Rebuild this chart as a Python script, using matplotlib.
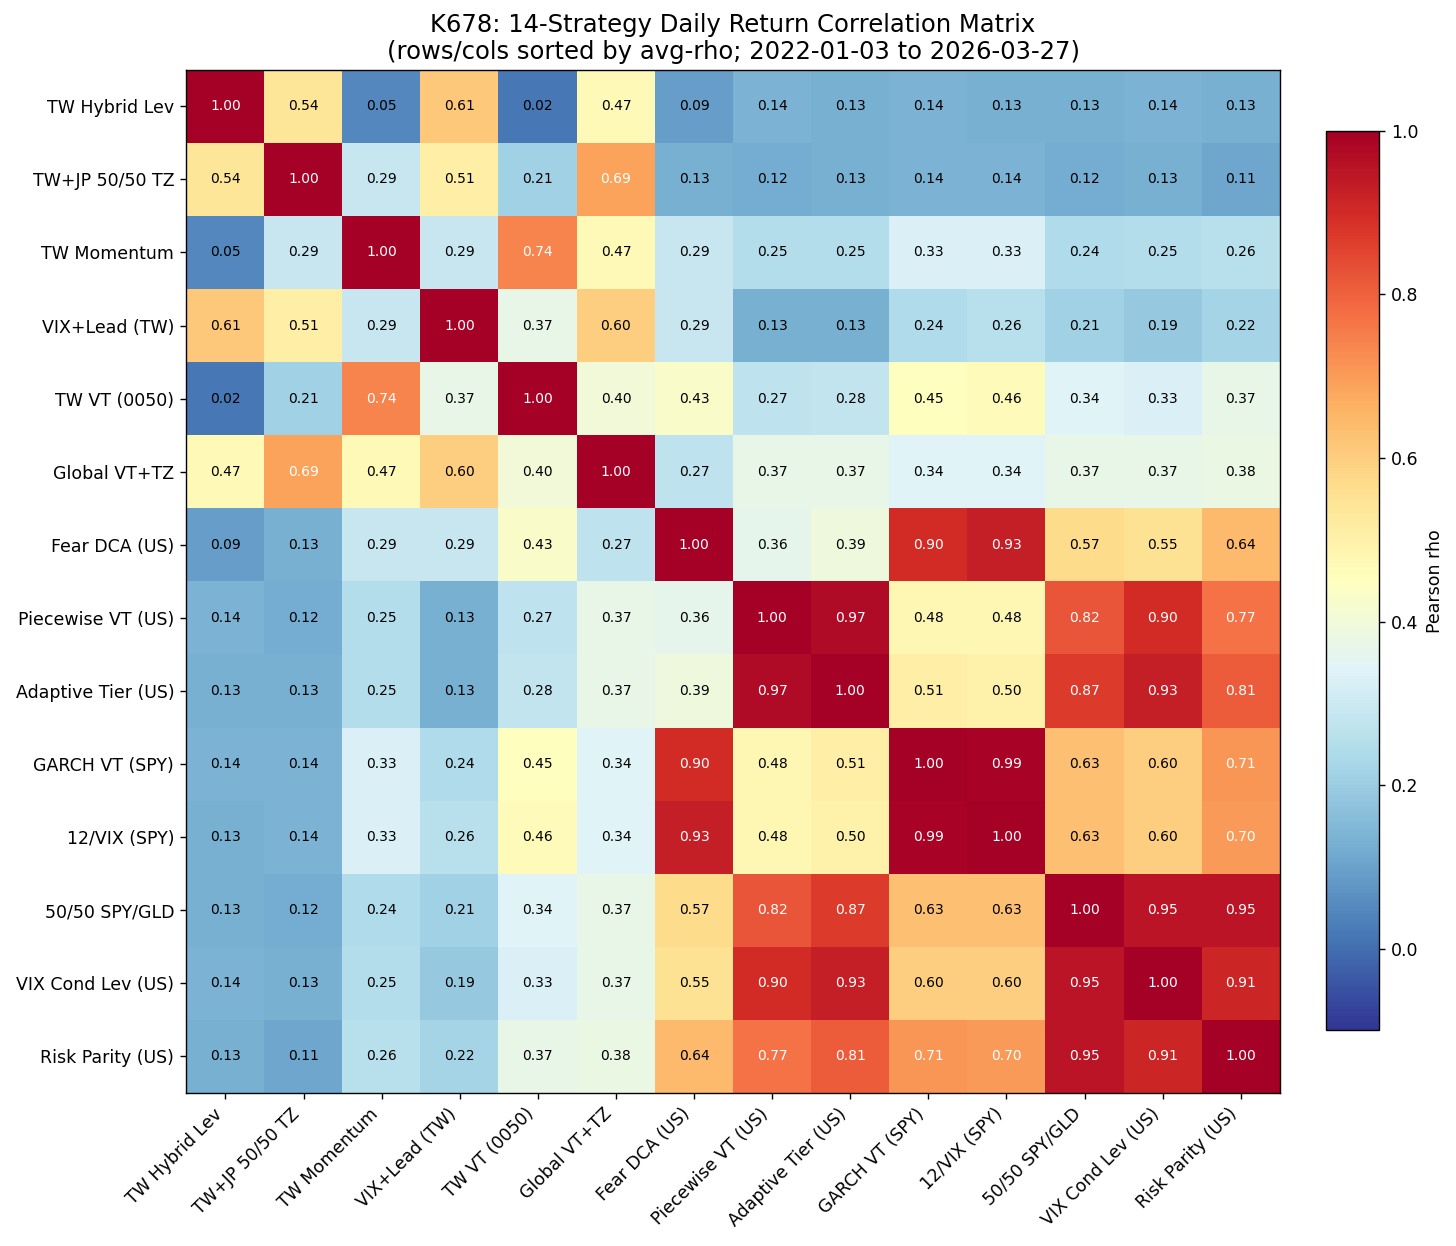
import numpy as np
from matplotlib import pyplot as plt

# strategy names (sorted by avg-rho)
names = ['TW Hybrid Lev', 'TW+JP 50/50 TZ', 'TW Momentum', 'VIX+Lead (TW)',
         'TW VT (0050)', 'Global VT+TZ', 'Fear DCA (US)', 'Piecewise VT (US)',
         'Adaptive Tier (US)', 'GARCH VT (SPY)', '12/VIX (SPY)', '50/50 SPY/GLD',
         'VIX Cond Lev (US)', 'Risk Parity (US)']

# correlation rows
row_hybrid = [1.00, 0.54, 0.05, 0.61, 0.02, 0.47, 0.09, 0.14, 0.13, 0.14, 0.13, 0.13, 0.14, 0.13]
row_twjp = [0.54, 1.00, 0.29, 0.51, 0.21, 0.69, 0.13, 0.12, 0.13, 0.14, 0.14, 0.12, 0.13, 0.11]
row_mom = [0.05, 0.29, 1.00, 0.29, 0.74, 0.47, 0.29, 0.25, 0.25, 0.33, 0.33, 0.24, 0.25, 0.26]
row_vixlead = [0.61, 0.51, 0.29, 1.00, 0.37, 0.60, 0.29, 0.13, 0.13, 0.24, 0.26, 0.21, 0.19, 0.22]
row_twvt = [0.02, 0.21, 0.74, 0.37, 1.00, 0.40, 0.43, 0.27, 0.28, 0.45, 0.46, 0.34, 0.33, 0.37]
row_global = [0.47, 0.69, 0.47, 0.60, 0.40, 1.00, 0.27, 0.37, 0.37, 0.34, 0.34, 0.37, 0.37, 0.38]
row_fear = [0.09, 0.13, 0.29, 0.29, 0.43, 0.27, 1.00, 0.36, 0.39, 0.90, 0.93, 0.57, 0.55, 0.64]
row_piece = [0.14, 0.12, 0.25, 0.13, 0.27, 0.37, 0.36, 1.00, 0.97, 0.48, 0.48, 0.82, 0.90, 0.77]
row_adapt = [0.13, 0.13, 0.25, 0.13, 0.28, 0.37, 0.39, 0.97, 1.00, 0.51, 0.50, 0.87, 0.93, 0.81]
row_garch = [0.14, 0.14, 0.33, 0.24, 0.45, 0.34, 0.90, 0.48, 0.51, 1.00, 0.99, 0.63, 0.60, 0.71]
row_12vix = [0.13, 0.14, 0.33, 0.26, 0.46, 0.34, 0.93, 0.48, 0.50, 0.99, 1.00, 0.63, 0.60, 0.70]
row_spygld = [0.13, 0.12, 0.24, 0.21, 0.34, 0.37, 0.57, 0.82, 0.87, 0.63, 0.63, 1.00, 0.95, 0.95]
row_vixcond = [0.14, 0.13, 0.25, 0.19, 0.33, 0.37, 0.55, 0.90, 0.93, 0.60, 0.60, 0.95, 1.00, 0.91]
row_rp = [0.13, 0.11, 0.26, 0.22, 0.37, 0.38, 0.64, 0.77, 0.81, 0.71, 0.70, 0.95, 0.91, 1.00]

corr = np.array([row_hybrid, row_twjp, row_mom, row_vixlead, row_twvt, row_global,
                 row_fear, row_piece, row_adapt, row_garch, row_12vix, row_spygld,
                 row_vixcond, row_rp])
n = len(names)

fig = plt.figure(figsize=(11.648, 9.968), dpi=125)
ax = fig.add_axes([0.128, 0.123, 0.751, 0.821])
im = ax.imshow(corr, cmap='RdYlBu_r', vmin=-0.1, vmax=1.0, aspect='auto')

ax.set_xticks(range(n))
ax.set_yticks(range(n))
ax.set_xticklabels(names, rotation=45, ha='right', fontsize=10)
ax.set_yticklabels(names, fontsize=10)

for i in range(n):
    for j in range(n):
        v = corr[i, j]
        color = 'white' if abs(v) > 0.65 else 'black'
        ax.text(j, i, f'{v:.2f}', ha='center', va='center', fontsize=8, color=color)

ax.set_title('K678: 14-Strategy Daily Return Correlation Matrix\n'
             '(rows/cols sorted by avg-rho; 2022-01-03 to 2026-03-27)', fontsize=14)

cax = fig.add_axes([0.911, 0.173, 0.036, 0.722])
cb = fig.colorbar(im, cax=cax)
cb.set_label('Pearson rho', fontsize=10)
cb.ax.tick_params(labelsize=10)

plt.savefig('out.png', dpi=125)
